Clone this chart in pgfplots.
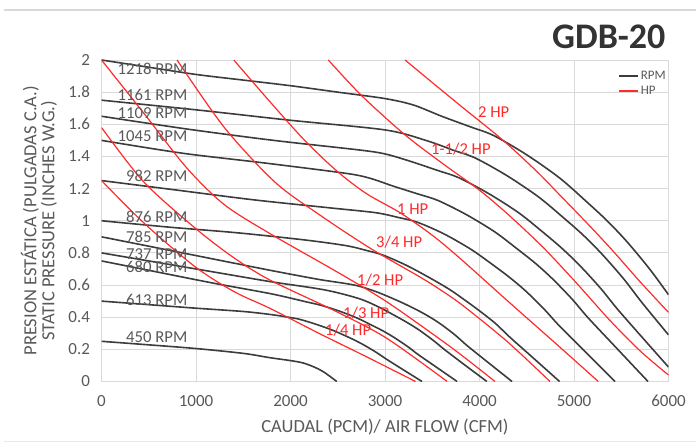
\documentclass[border=0pt]{standalone}
\usepackage{fontspec}
\setmainfont{Carlito}
\usepackage{pgfplots}
\pgfplotsset{compat=1.18}
\definecolor{txt}{HTML}{595959}
\definecolor{grd}{HTML}{D9D9D9}
\definecolor{rpm}{HTML}{3C3C3C}
\definecolor{hp}{HTML}{FF2A2A}
\begin{document}
\begin{tikzpicture}[x=1pt,y=1pt]
\path[use as bounding box] (0,0) rectangle (696,444);
\draw[color=grd, line width=1.5pt] (4,434) -- (696,434);
\draw[color=grd!60, line width=1pt] (4,2) -- (696,2);
\node[anchor=east, font=\bfseries\fontsize{36}{40}\selectfont, color=black!80] at (669,407) {GDB-20};
\begin{axis}[
 at={(101.5pt,62.5pt)}, anchor=south west,
 scale only axis, width=567pt, height=321.5pt,
 xmin=0, xmax=6000, ymin=0, ymax=2,
 xtick={0,1000,2000,3000,4000,5000,6000},
 ytick={0,0.2,0.4,0.6,0.8,1,1.2,1.4,1.6,1.8,2},
 grid=major, major grid style={grd, line width=0.8pt},
 axis line style={grd, line width=0.8pt},
 tick style={draw=none},
 ticklabel style={font=\fontsize{17}{20}\selectfont, color=txt},
 xticklabel style={yshift=-10pt},
 yticklabel style={xshift=-8pt},
 /pgf/number format/assume math mode=true,
 /pgf/number format/1000 sep={},
 scaled x ticks=false,
 xlabel={CAUDAL (PCM)/ AIR FLOW (CFM)},
 ylabel={PRESION ESTÁTICA (PULGADAS C.A.)\\STATIC PRESSURE (INCHES W.G.)},
 label style={font=\fontsize{18.5}{18}\selectfont, color=txt},
 xlabel style={at={(axis description cs:0.5,0)}, anchor=center, yshift=-45.5pt},
 ylabel style={align=center, at={(axis description cs:-0.1102,0.5)}, anchor=center},
 legend style={draw=none, fill=none, at={(0.911,0.972)}, anchor=north west, font=\fontsize{13}{15}\selectfont, text=txt, row sep=1pt, inner sep=0pt},
 legend cell align=left,
 legend image code/.code={\draw[#1] (0pt,0pt) -- (19pt,0pt);},
]
\addlegendimage{draw=rpm, line width=1.6pt}
\addlegendentry{RPM}
\addlegendimage{draw=hp, line width=1.4pt}
\addlegendentry{HP}
% RPM curves
\addplot[rpm, line width=1.6pt, smooth, forget plot] coordinates {(0,2.0)(500,1.955)(1000,1.91)(1500,1.875)(2000,1.84)(2500,1.80)(3000,1.76)(3300,1.72)(3600,1.65)(3900,1.585)(4150,1.53)(4500,1.41)(4850,1.265)(5130,1.12)(5350,1.0)(5560,0.87)(5800,0.70)(6000,0.54)};
\addplot[rpm, line width=1.6pt, smooth, forget plot] coordinates {(0,1.75)(1000,1.69)(2000,1.625)(3000,1.565)(3432,1.50)(3717,1.44)(3956,1.39)(4289,1.281)(4623,1.149)(4890,1.018)(5100,0.909)(5300,0.790)(5529,0.636)(5719,0.491)(6000,0.29)};
\addplot[rpm, line width=1.6pt, smooth, forget plot] coordinates {(0,1.65)(911,1.57)(1821,1.50)(2732,1.44)(3005,1.415)(3278,1.368)(3551,1.314)(3779,1.268)(4097,1.169)(4416,1.049)(4671,0.929)(4871,0.829)(5062,0.721)(5281,0.580)(5463,0.448)(5736,0.265)(6000,0.09)};
\addplot[rpm, line width=1.6pt, smooth, forget plot] coordinates {(0,1.50)(858,1.42)(1716,1.36)(2574,1.296)(2831,1.266)(3089,1.215)(3346,1.167)(3561,1.126)(3861,1.038)(4161,0.931)(4401,0.824)(4590,0.736)(4770,0.640)(4976,0.515)(5148,0.397)(5405,0.236)(5783,0)};
\addplot[rpm, line width=1.6pt, smooth, forget plot] coordinates {(0,1.25)(806,1.19)(1612,1.13)(2419,1.08)(2902,1.05)(3144,1.02)(3346,0.99)(3628,0.917)(3910,0.822)(4136,0.728)(4313,0.650)(4483,0.566)(4676,0.455)(4837,0.351)(5079,0.208)(5434,0)};
\addplot[rpm, line width=1.6pt, smooth, forget plot] coordinates {(0,1.0)(719,0.96)(1438,0.925)(2158,0.88)(2589,0.845)(2805,0.815)(2985,0.785)(3236,0.72)(3488,0.64)(3690,0.57)(3848,0.505)(3999,0.44)(4171,0.36)(4315,0.279)(4531,0.166)(4847,0)};
\addplot[rpm, line width=1.6pt, smooth, forget plot] coordinates {(0,0.90)(600,0.83)(1200,0.76)(1800,0.69)(2300,0.635)(2675,0.60)(2900,0.56)(3126,0.505)(3306,0.455)(3448,0.41)(3583,0.36)(3738,0.291)(3867,0.224)(4060,0.133)(4344,0)};
\addplot[rpm, line width=1.6pt, smooth, forget plot] coordinates {(0,0.80)(600,0.74)(1200,0.68)(1800,0.62)(2360,0.57)(2723,0.516)(2935,0.463)(3104,0.41)(3237,0.366)(3364,0.319)(3510,0.256)(3631,0.198)(3812,0.117)(4078,0)};
\addplot[rpm, line width=1.6pt, smooth, forget plot] coordinates {(0,0.75)(600,0.68)(1200,0.61)(1800,0.545)(2177,0.494)(2317,0.475)(2512,0.439)(2708,0.394)(2864,0.349)(2987,0.312)(3104,0.271)(3238,0.218)(3350,0.168)(3517,0.10)(3763,0)};
\addplot[rpm, line width=1.6pt, smooth, forget plot] coordinates {(0,0.50)(500,0.478)(1000,0.456)(1510,0.435)(1812,0.415)(1963,0.401)(2089,0.388)(2265,0.357)(2441,0.320)(2582,0.284)(2693,0.253)(2798,0.220)(2919,0.177)(3020,0.137)(3171,0.081)(3392,0)};
\addplot[rpm, line width=1.6pt, smooth, forget plot] coordinates {(0,0.25)(500,0.228)(1000,0.205)(1500,0.175)(1783,0.148)(2000,0.13)(2135,0.115)(2250,0.09)(2350,0.06)(2490,0)};
% HP curves
\addplot[hp, line width=1.2pt, smooth, forget plot] coordinates {(3212,2.0)(3500,1.86)(3800,1.715)(4250,1.50)(4600,1.31)(4850,1.16)(5130,0.99)(5400,0.82)(5700,0.62)(6000,0.43)};
\addplot[hp, line width=1.2pt, smooth, forget plot] coordinates {(2400,2.0)(2750,1.78)(3200,1.54)(3600,1.36)(4000,1.19)(4320,1.03)(4680,0.83)(5030,0.61)(5380,0.38)(5700,0.19)(6000,0.04)};
\addplot[hp, line width=1.2pt, smooth, forget plot] coordinates {(1400,2.0)(1783,1.74)(2150,1.50)(2489,1.31)(2800,1.17)(3159,1.05)(3500,0.91)(3794,0.766)(4300,0.50)(4800,0.24)(5257,0)};
\addplot[hp, line width=1.2pt, smooth, forget plot] coordinates {(800,2.0)(1300,1.58)(1836,1.24)(2312,1.035)(2841,0.83)(3370,0.65)(3600,0.565)(3830,0.47)(4300,0.245)(4746,0)};
\addplot[hp, line width=1.2pt, smooth, forget plot] coordinates {(0,2.0)(460,1.66)(900,1.33)(1300,1.10)(1783,0.92)(2489,0.683)(3018,0.496)(3617,0.248)(3899,0.123)(4164,0)};
\addplot[hp, line width=1.2pt, smooth, forget plot] coordinates {(0,1.58)(450,1.24)(1000,0.95)(1400,0.77)(1783,0.631)(2489,0.434)(3018,0.269)(3658,0)};
\addplot[hp, line width=1.2pt, smooth, forget plot] coordinates {(0,1.25)(460,0.98)(990,0.714)(1400,0.56)(1783,0.455)(2300,0.30)(2800,0.155)(3323,0)};
% RPM labels
\begin{scope}[every node/.style={font=\fontsize{16.7}{18}\selectfont, text=txt, anchor=east, inner sep=0pt}]
\node at (axis cs:910,1.943) {1218 RPM};
\node at (axis cs:910,1.782) {1161 RPM};
\node at (axis cs:910,1.670) {1109 RPM};
\node at (axis cs:910,1.527) {1045 RPM};
\node at (axis cs:910,1.278) {982 RPM};
\node at (axis cs:910,1.023) {876 RPM};
\node at (axis cs:910,0.899) {785 RPM};
\node at (axis cs:910,0.793) {737 RPM};
\node at (axis cs:910,0.712) {680 RPM};
\node at (axis cs:910,0.507) {613 RPM};
\node at (axis cs:910,0.277) {450 RPM};
\end{scope}
\begin{scope}[every node/.style={font=\fontsize{16.6}{18}\selectfont, text=hp, anchor=west, inner sep=0pt}]
\node at (axis cs:3984,1.676) {2 HP};
\node at (axis cs:3487,1.446) {1-1/2 HP};
\node at (axis cs:3127,1.073) {1 HP};
\node at (axis cs:2905,0.868) {3/4 HP};
\node at (axis cs:2704,0.631) {1/2 HP};
\node at (axis cs:2556,0.426) {1/3 HP};
\node at (axis cs:2365,0.320) {1/4 HP};
\end{scope}
\end{axis}
\end{tikzpicture}
\end{document}
